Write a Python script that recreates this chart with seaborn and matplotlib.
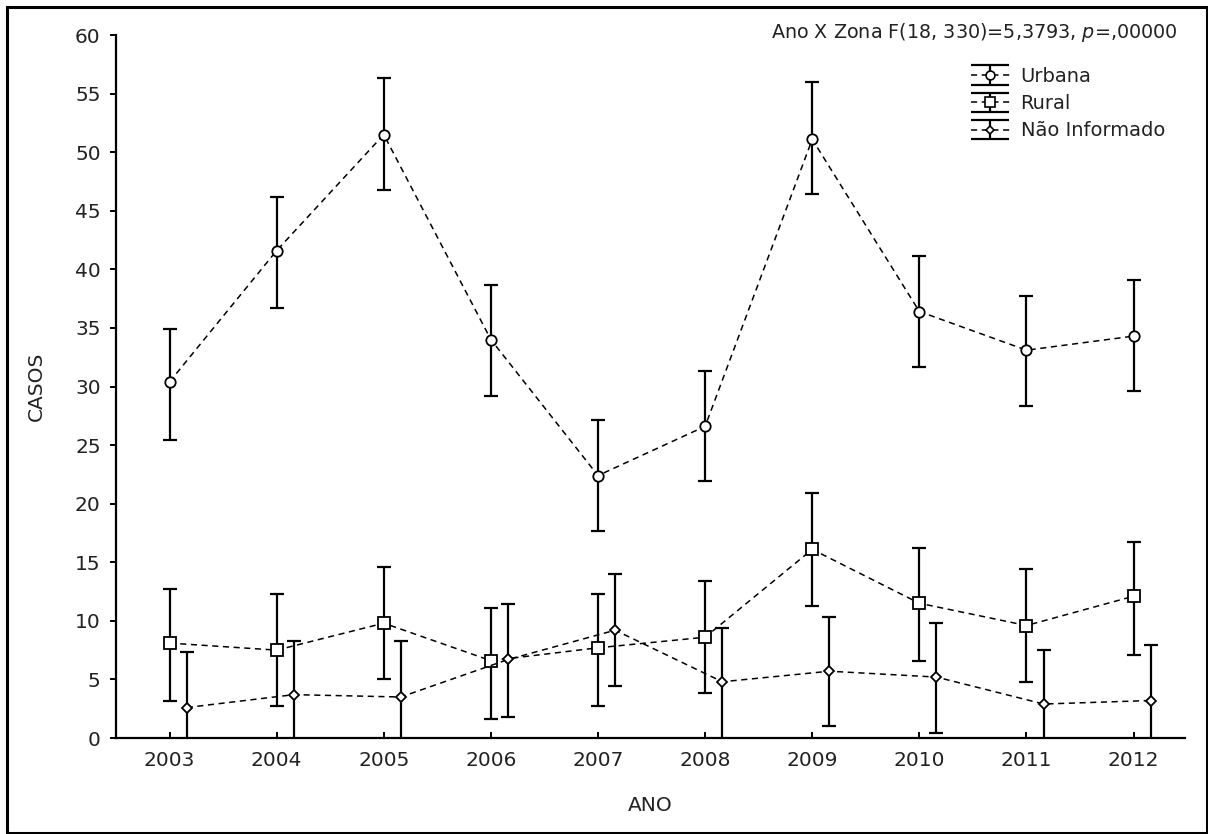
import numpy as np
import pandas as pd
import matplotlib
matplotlib.use("Agg")
import matplotlib.pyplot as plt
import seaborn as sns
from matplotlib.container import ErrorbarContainer
from matplotlib.lines import Line2D
from matplotlib.collections import LineCollection
from matplotlib.patches import Rectangle

# ---------------- data ----------------
years = [2003, 2004, 2005, 2006, 2007, 2008, 2009, 2010, 2011, 2012]
zonas = ["Urbana", "Rural", "Não Informado"]

urbana_mean = [30.4, 41.6, 51.5, 34.0, 22.4, 26.6, 51.1, 36.4, 33.1, 34.3]
urbana_lo = [25.4, 36.7, 46.8, 29.2, 17.7, 21.9, 46.4, 31.7, 28.3, 29.6]
urbana_hi = [34.9, 46.2, 56.3, 38.7, 27.1, 31.3, 56.0, 41.1, 37.7, 39.1]

rural_mean = [8.1, 7.5, 9.8, 6.6, 7.7, 8.6, 16.1, 11.5, 9.6, 12.1]
rural_lo = [3.2, 2.7, 5.0, 1.6, 2.7, 3.8, 11.3, 6.6, 4.8, 7.1]
rural_hi = [12.7, 12.3, 14.6, 11.1, 12.3, 13.4, 20.9, 16.2, 14.4, 16.7]

nao_mean = [2.6, 3.7, 3.5, 6.7, 9.2, 4.8, 5.7, 5.2, 2.9, 3.2]
nao_lo = [-2.1, -1.0, -1.2, 1.8, 4.4, -0.1, 1.0, 0.4, -1.8, -1.5]
nao_hi = [7.3, 8.3, 8.3, 11.4, 14.0, 9.4, 10.3, 9.8, 7.5, 7.9]

y_ticks = [0, 5, 10, 15, 20, 25, 30, 35, 40, 45, 50, 55, 60]
title_text = "Ano X Zona F(18, 330)=5,3793, $\\it{p}$=,00000"

# ---------------- style ----------------
sns.set_theme(style="ticks")
plt.rcParams["font.family"] = ["DejaVu Sans"]
plt.rcParams["axes.unicode_minus"] = False

W, H = 1208, 834
fig = plt.figure(figsize=(W / 100, H / 100), dpi=100)
fig.patch.set_facecolor("white")
ax = fig.add_axes([116 / W, 1 - 738 / H, (1185 - 116) / W, (738 - 35) / H])
ax.set_facecolor("white")

series = [
    (urbana_mean, urbana_lo, urbana_hi, "o", 7.5, 0.0),
    (rural_mean, rural_lo, rural_hi, "s", 8.0, 0.0),
    (nao_mean, nao_lo, nao_hi, "D", 5.0, 0.16),
]
dash = (0, (4, 3))

handles = []
for name, (m, lo, hi, mk, ms, off) in zip(zonas, series):
    df = pd.DataFrame({"ano": np.array(years) + off, "casos": m})
    m_arr = np.array(m)
    ax.errorbar(df["ano"], m_arr,
                yerr=[m_arr - np.array(lo), np.array(hi) - m_arr],
                fmt="none", ecolor="black", elinewidth=1.6,
                capsize=5, capthick=1.6, zorder=2)
    sns.lineplot(data=df, x="ano", y="casos", ax=ax, color="black",
                 linewidth=1.1, linestyle=dash, marker=mk, markersize=ms,
                 markerfacecolor="white", markeredgecolor="black",
                 markeredgewidth=1.3, legend=False, zorder=3)
    # legend proxy
    pline = Line2D([], [], color="black", lw=1.1, ls=dash, marker=mk,
                   markersize=ms * 0.85, markerfacecolor="white",
                   markeredgecolor="black", markeredgewidth=1.2)
    pcap = Line2D([], [], color="black", ls="none", marker="_",
                  markersize=28, markeredgewidth=1.6)
    plc = LineCollection([], colors="black", linewidths=1.6)
    handles.append(ErrorbarContainer((pline, (pcap, pcap), (plc,)),
                                     has_xerr=False, has_yerr=True, label=name))

ax.set_xlim(2002.5, 2012.48)
ax.set_ylim(0, 60)
ax.set_xticks(years)
ax.set_xticklabels([str(y) for y in years])
ax.set_yticks(y_ticks)
ax.set_yticklabels([str(t) for t in y_ticks])

for s in ["top", "right"]:
    ax.spines[s].set_visible(False)
for s in ["left", "bottom"]:
    ax.spines[s].set_linewidth(1.6)
    ax.spines[s].set_color("black")

ax.tick_params(axis="y", direction="out", length=4, width=1.4, pad=7,
               labelsize=14.5, colors="black", labelcolor="#222222")
ax.tick_params(axis="x", direction="in", length=4, width=1.4, pad=9,
               labelsize=14.5, colors="black", labelcolor="#222222")

ax.set_xlabel("ANO", fontsize=14.5, color="#222222")
ax.set_ylabel("CASOS", fontsize=14.5, color="#222222")
ax.xaxis.set_label_coords(0.5, -0.083)
ax.yaxis.set_label_coords(-0.066, 0.5)

fig.text(1178 / W, 1 - 32 / H, title_text, ha="right", va="center",
         fontsize=13.8, color="#222222")

leg = fig.legend(handles=handles, labels=zonas, loc="upper left",
                 bbox_to_anchor=(971 / W, 1 - 67 / H), frameon=False,
                 fontsize=14, handlelength=2.0, handletextpad=0.55,
                 labelspacing=0.42, borderpad=0, borderaxespad=0)
for t in leg.get_texts():
    t.set_color("#222222")

# outer frame
fig.patches.append(Rectangle((7 / W, 1 / H), 1 - 8 / W, 1 - 8 / H,
                             transform=fig.transFigure, fill=False,
                             edgecolor="black", linewidth=2.2))

fig.savefig("out.png", dpi=100, facecolor="white")
